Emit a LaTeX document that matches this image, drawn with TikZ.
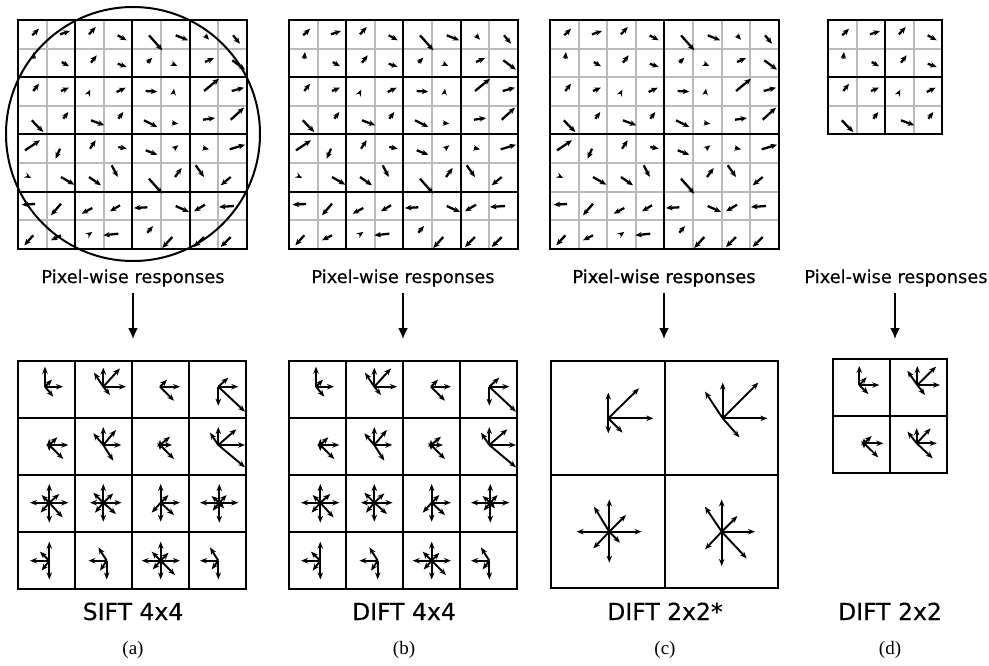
\documentclass[tikz,border=0pt]{standalone}
\usepackage{fontspec}
\newfontfamily\labfont[FakeBold=0.3]{DejaVu Sans}
\newfontfamily\labfontb[FakeBold=1.2]{DejaVu Sans}
\newfontfamily\subfont{Liberation Serif}
\usetikzlibrary{arrows.meta}
\tikzset{
 qv/.style={line width=2.3pt,-{Stealth[length=6.5pt,width=5.5pt]}},
 hv/.style={line width=1.9pt,-{Stealth[length=7pt,width=5.5pt]}},
 gl/.style={draw=black!27,line width=2pt},
 bl/.style={draw=black,line width=2pt,line cap=rect},
 lab/.style={font=\labfont\fontsize{17.8}{20}\selectfont,inner sep=0pt,anchor=base},
 ttl/.style={font=\labfont\fontsize{23.5}{28}\selectfont,inner sep=0pt,anchor=base},
 subl/.style={font=\subfont\fontsize{19}{22}\selectfont,inner sep=0pt,anchor=base},
 downarr/.style={line width=1.8pt,-{Latex[length=11pt,width=10pt]}},
}
% top grids: #1 cells, #2 thick every
\newcommand\topgrid[2]{%
  \pgfmathsetmacro\tgs{#1*28.6}%
  \foreach \i in {0,...,#1}{\draw[gl] (\i*28.6,0) -- (\i*28.6,\tgs); \draw[gl] (0,\i*28.6) -- (\tgs,\i*28.6);}%
  \foreach \i in {0,#2,...,#1}{\draw[bl] (\i*28.6,0) -- (\i*28.6,\tgs); \draw[bl] (0,\i*28.6) -- (\tgs,\i*28.6);}%
}
\newcommand\botgrid[2]{% #1 cells, #2 cell size
  \pgfmathsetmacro\bgs{#1*#2}%
  \foreach \i in {0,...,#1}{\draw[bl] (\i*#2,0) -- (\i*#2,\bgs); \draw[bl] (0,\i*#2) -- (\bgs,\i*#2);}%
}
\newcommand\fieldQa{\foreach \a/\b/\c/\d in {
14.3/15.3/21/8.7, 42/14.3/52/11, 71/14.3/77.7/7, 99.7/15.3/108.7/20.3,
15.3/38.7/16/32, 43.7/42/51/46.3, 73/42.7/78.7/35.3, 99.7/43.7/108.7/47,
15.3/71/21/63.7, 43/71/51/67.7, 70.3/73.7/72.3/69.7, 98.7/72/107.7/67.7,
13.7/100.3/25.3/112, 45.3/98.7/50.3/92, 73/100.3/86.3/105.3, 100.3/98.7/105.3/92}
{\draw[qv] (\a,\b) -- (\c,\d);}}
\newcommand\fieldQb{\foreach \a/\b/\c/\d in {
131/15.3/144.3/30.3, 157.7/15.3/170.3/20.3, 187/15.3/191/19.7, 215/15.3/222/23.7,
129.3/42.7/134.3/37.7, 154.3/43.7/159.3/46, 187/42/196/38, 214.3/40.3/227/49.7,
127.7/71/139.3/71.7, 155.3/73.7/156/68.7, 186/71/201/58.7, 213.7/71/226/67.7,
126/100.3/139.3/107, 154.3/103/160.3/103.7, 185/99.7/197/98, 212.7/99.7/226/87.7}
{\draw[qv] (\a,\b) -- (\c,\d);}}
\newcommand\fieldQc{\foreach \a/\b/\c/\d in {
7/130.3/22/120.3, 42/128.7/37.7/138.7, 72/128.7/77.7/120.3, 100.3/127/108.7/128.7,
9.7/156.3/13/158, 43/157/56.3/164.7, 71/157/83/165.3, 93.7/145.3/99.7/157,
17/184/3.7/184.7, 43/183.7/33/195.3, 74.3/188/63.7/193.7, 102/185.3/92/191.3,
15.3/215.3/6.3/225.3, 43/215.3/33/220.3, 70.3/214.7/74.3/212, 100.3/213.7/85.3/215.3}
{\draw[qv] (\a,\b) -- (\c,\d);}}
\newcommand\fieldQd{\foreach \a/\b/\c/\d in {
127.7/130.3/139.3/134.7, 156/128.7/160.3/125.3, 185/128/191/129.3, 211.7/129.3/227/124.7,
131/158.7/144.3/173.7, 157/157/163.7/148, 177.7/145.3/186/157, 212.7/157/202.7/165.3,
129.3/187.3/116/188, 157.7/186/171/192, 187/184.7/176/191.3, 216/186/201/187,
129.3/212.7/135/206, 154.3/217/144.3/228, 186/217/176/227, 212.7/217/202.7/227}
{\draw[qv] (\a,\b) -- (\c,\d);}}
\newcommand\hstar[2]{\foreach \u/\v in {#2}{\draw[hv] (#1) -- ++(\u,\v);}}
\newcommand\siftstars{%
\hstar{45,386.7}{0/-20,18/0,7/-7,8.3/10}
\hstar{103.3,386.7}{0/-19,16.7/-18.3,22.7/0,-9.3/-14,6.7/8.3}
\hstar{160,386.7}{7/-7,20/0,14/14}
\hstar{218.3,386.7}{10/-9,20/0,0/19,26.7/25}
\hstar{49.3,445}{8/-7.7,19/0,14/14,0/-6,0/6}
\hstar{103.3,445}{0/-18,12.7/-15,18/0,-10/-11.7,10/15.7}
\hstar{160,445}{10/-8.3,12/0,14/14,0/-5,0/5}
\hstar{218.3,445}{0/-18,18/-15.7,26.7/0,-8.3/-12.3,26.7/22.3}
\hstar{49.3,502.7}{0/-18.7,0/20,19/0,-19.3/0,10/-8.7,-7.7/-7.7,-8.7/10,13.3/14.7}
\hstar{103.3,502.7}{0/-18.7,0/19,18.3/0,-13.3/0,10/-9.3,-10/-10,-8.3/10,12.7/11.3}
\hstar{160.7,502.7}{0/-18.7,0/19,19.3/0,7.7/-7.7,13.3/12.3,-9/10}
\hstar{219.3,502.7}{0/-18.7,0/20,19/0,-19.3/0,7.3/-7.7,-7.7/-6.7,-6.7/8,4.7/5.7}
\hstar{49.3,560.7}{0/-19,0/18.7,-19.3/0,-9.3/-9,-7.7/10}
\hstar{106.7,560.7}{0/18.7,-18.3/0,-8.3/-13.3,-6.7/10}
\hstar{160.7,560.7}{0/-19,0/18.7,19.3/0,-19/0,7.7/-8,-9/-9,-8/8.7,14.3/14.3}
\hstar{218.3,560.7}{0/18.7,-18.3/0,-8.3/-13.3,-6.7/8.7}
}
\begin{document}
\begin{tikzpicture}[x=1pt,y=-1pt]
\useasboundingbox (0,0) rectangle (989,665);
% ---- top grids
\begin{scope}[shift={(18,20)}]\topgrid{8}{2}\fieldQa\fieldQb\fieldQc\fieldQd\end{scope}
\draw[line width=2pt] (133,134) circle[radius=127];
\begin{scope}[shift={(289,20)}]\topgrid{8}{2}\fieldQa\fieldQb\fieldQc\fieldQd\end{scope}
\begin{scope}[shift={(550,20)}]\topgrid{8}{4}\fieldQa\fieldQb\fieldQc\fieldQd\end{scope}
\begin{scope}[shift={(828,20)}]\topgrid{4}{2}\fieldQa\end{scope}
% ---- labels and arrows
\node[lab] (la) at (133,283) {Pixel-wise responses};
\node[lab] (lb) at (403,283) {Pixel-wise responses};
\node[lab,font=\labfontb\fontsize{17.8}{20}\selectfont] (lc) at (664,283) {Pixel-wise responses};
\node[lab] (ld) at (896,283) {Pixel-wise responses};
\coordinate (ta) at (133,339);
\coordinate (tb) at (403,339);
\coordinate (tc) at (664,339);
\coordinate (td) at (895,339);
\draw[downarr] (la.base) ++(0,10) -- (ta);
\draw[downarr] (lb.base) ++(0,10) -- (tb);
\draw[downarr] (lc.base) ++(0,10) -- (tc);
\draw[downarr] (895,293) -- (td);
% ---- bottom grids
\begin{scope}[shift={(18,361)}]\botgrid{4}{57}\end{scope}
\siftstars
\begin{scope}[shift={(289,361)}]\botgrid{4}{57}\end{scope}
\begin{scope}[shift={(271,0)}]\siftstars\end{scope}
\begin{scope}[shift={(551,361)}]\botgrid{2}{113.5}\end{scope}
\hstar{608.3,418.3}{0/-25.7,0/15,45/0,30.7/-30,14.3/14.3}
\hstar{722.7,418.3}{0/-35.7,44.7/0,35.7/-35.7,-17.7/-26.7,16.7/19}
\hstar{609.3,531.7}{0/-32.3,0/31,32.3/0,-32.7/0,16.7/-16.7,-15.3/-25,-16/16.7,10.7/11}
\hstar{721.7,531.7}{0/-32.3,0/34.3,33.3/0,15.7/-15.7,-16.7/-25,-16.7/17.7,25/26.7}
\begin{scope}[shift={(833,359)}]\botgrid{2}{57}\end{scope}
\hstar{859.3,385}{0/-19,20/0,7.3/-7.7,9/9}
\hstar{917.3,385}{0/-19,18.7/-18.3,22.7/0,-10/-14.3,7.7/10}
\hstar{864,443.3}{7.7/-7.3,19.3/0,14.3/14,0/-5,0/5}
\hstar{916.7,443.3}{0/-15,14/-15,20/0,-9.3/-11.7,16/15}
% ---- captions
\node[ttl] (ca) at (133,620) {SIFT 4x4};
\node[ttl] (cb) at (404,620) {DIFT 4x4};
\node[ttl] (cc) at (665,620) {DIFT 2x2*};
\node[ttl] (cd) at (890,620) {DIFT 2x2};
\node[subl] (sa) at (133,654) {(a)};
\node[subl] (sb) at (404,654) {(b)};
\node[subl] (sc) at (665,654) {(c)};
\node[subl] (sd) at (890,654) {(d)};
\end{tikzpicture}
\end{document}
